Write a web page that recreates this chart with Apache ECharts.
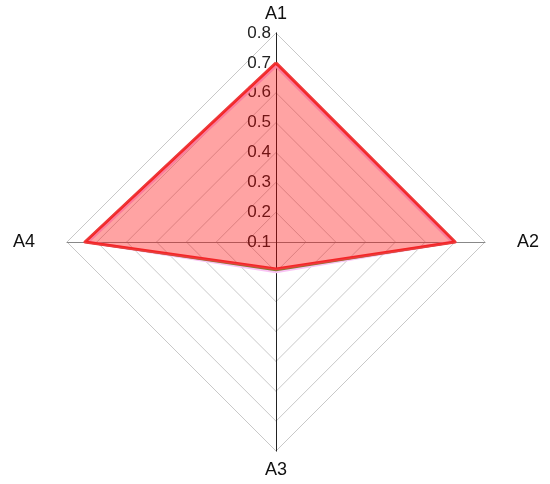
<!DOCTYPE html>
<html>
<head>
<meta charset="utf-8">
<script src="https://cdn.jsdelivr.net/npm/echarts@6/dist/echarts.min.js"></script>
<style>
  html, body { margin: 0; padding: 0; background: #fff; }
  #chart { width: 550px; height: 484px; }
</style>
</head>
<body>
<div id="chart"></div>
<script>
// indicators in ECharts order (counter-clockwise from top), so A2 lands on the right
var axes = ["A1", "A4", "A3", "A2"];
var tickLabels = ["0.1", "0.2", "0.3", "0.4", "0.5", "0.6", "0.7", "0.8"];

// three overlapping series, same order as axes
var pinkVals = [0.69, 0.73, 0.2, 0.69];
var oliveVals = [0.7, 0.74, 0.195, 0.7];
var redVals = [0.7, 0.74, 0.19, 0.7];

var myChart = echarts.init(document.getElementById("chart"));

var pad = { A1: [0, 0, 0, 0], A2: [0, 0, 0, 22], A3: [0, 0, 0, 0], A4: [0, 22, 0, 0] };
var rich = {};
axes.forEach(function (a) { rich[a] = { fontSize: 18, color: "#111", padding: pad[a] }; });

myChart.setOption({
	animation: false,
	textStyle: { fontFamily: "Liberation Sans, Arial, sans-serif" },
	radar: {
		center: [276, 242],
		radius: 209,
		startAngle: 90,
		shape: "polygon",
		splitNumber: 7,
		indicator: axes.map(function (a) { return { name: a, min: 0.1, max: 0.8 }; }),
		axisName: {
			color: "#111",
			fontSize: 18,
			formatter: function (name) { return "{" + name + "|" + name + "}"; },
			rich: rich
		},
		nameGap: 10,
		axisLine: { lineStyle: { color: "#888", width: 1 } },
		splitLine: { lineStyle: { color: "#c8c8c8", width: 1 } },
		splitArea: { show: false },
		axisLabel: { show: false },
		axisTick: { show: false }
	},
	// vertical value axis carrying the 0.1 .. 0.8 labels along A1
	grid: { left: 276, top: 33, width: 10, height: 418, containLabel: false },
	xAxis: { type: "value", show: false },
	yAxis: {
		type: "value",
		min: -0.6,
		max: 0.8,
		interval: 0.1,
		position: "left",
		axisLine: { show: true, lineStyle: { color: "#222", width: 1 } },
		axisTick: { show: false },
		splitLine: { show: false },
		axisLabel: {
			color: "#222",
			fontSize: 17,
			margin: 5,
			formatter: function (v) {
				if (v < 0.05) return "";
				var s = v.toFixed(1);
				return tickLabels.indexOf(s) >= 0 ? s : "";
			}
		}
	},
	series: [
		{
			type: "radar",
			symbol: "none",
			z: 2,
			data: [
				{
					value: pinkVals,
					lineStyle: { color: "#f9c4f4", width: 3 }
				},
				{
					value: oliveVals,
					lineStyle: { color: "#7f7f30", width: 2 }
				}
			]
		},
		{
			type: "radar",
			symbol: "none",
			z: 3,
			data: [
				{
					value: redVals,
					lineStyle: { color: "#ee3a3c", width: 3 },
					areaStyle: { color: "rgba(255,0,0,0.36)", opacity: 1 }
				}
			]
		}
	]
});
</script>
</body>
</html>
